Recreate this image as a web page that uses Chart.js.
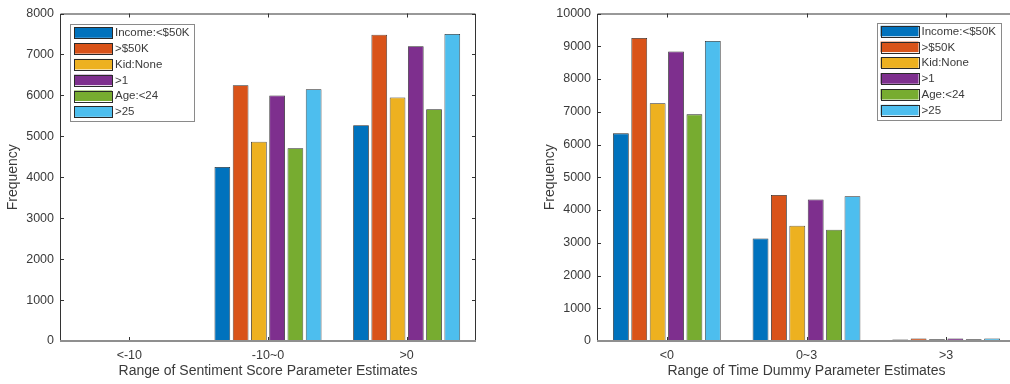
<!DOCTYPE html>
<html>
<head>
<meta charset="utf-8">
<script src="https://cdn.jsdelivr.net/npm/chart.js@4/dist/chart.umd.min.js"></script>
<style>
  html, body { margin: 0; padding: 0; background: #fff; }
  body { width: 1010px; height: 384px; overflow: hidden; position: relative; }
  canvas { position: absolute; top: 0; }
  #sentiment { left: 0; }
  #timeDummy { left: 537px; }
</style>
</head>
<body>
<canvas id="sentiment" width="480" height="384"></canvas>
<canvas id="timeDummy" width="490" height="384"></canvas>
<script>
// Series shared by both panels
const seriesLabels = ['Income:<$50K', '>$50K', 'Kid:None', '>1', 'Age:<24', '>25'];
const seriesColors = ['#0072BD', '#D95319', '#EDB120', '#7E2F8E', '#77AC30', '#4DBEEE'];

// Panel 1: sentiment score parameter estimates
const sentimentCats = ['<-10', '-10~0', '>0'];
const sentIncomeLow  = [0, 4250, 5270];
const sentIncomeHigh = [0, 6250, 7480];
const sentKidNone    = [0, 4870, 5950];
const sentKidMore    = [0, 6000, 7200];
const sentAgeYoung   = [0, 4710, 5660];
const sentAgeOld     = [0, 6150, 7500];
const sentimentTicks = [0, 1000, 2000, 3000, 4000, 5000, 6000, 7000, 8000];

// Panel 2: time dummy parameter estimates
const timeCats = ['<0', '0~3', '>3'];
const timeIncomeLow  = [6340, 3130, 45];
const timeIncomeHigh = [9250, 4460, 80];
const timeKidNone    = [7260, 3520, 50];
const timeKidMore    = [8840, 4320, 75];
const timeAgeYoung   = [6920, 3400, 50];
const timeAgeOld     = [9160, 4420, 75];
const timeTicks = [0, 1000, 2000, 3000, 4000, 5000, 6000, 7000, 8000, 9000, 10000];

const FONT = '"Liberation Sans", Arial, sans-serif';
const INK = '#3a3a3a';

// Box around the axes with short inward tick marks
const framePlugin = {
  id: 'boxFrame',
  afterDatasetsDraw(chart) {
    const { ctx, chartArea: a, scales } = chart;
    const x = scales.x, y = scales.y;
    ctx.save();
    ctx.strokeStyle = '#333';
    ctx.lineWidth = 1;
    ctx.beginPath();
    ctx.moveTo(a.left + 0.5, a.bottom);
    ctx.lineTo(a.left + 0.5, a.top + 0.5);
    ctx.lineTo(a.right - 0.5, a.top + 0.5);
    ctx.lineTo(a.right - 0.5, a.bottom);
    // y ticks, both sides
    y.ticks.forEach(t => {
      const py = Math.round(y.getPixelForValue(t.value)) + 0.5;
      ctx.moveTo(a.left, py); ctx.lineTo(a.left + 4, py);
      ctx.moveTo(a.right, py); ctx.lineTo(a.right - 4, py);
    });
    // x ticks at category centres, top and bottom
    x.ticks.forEach((t, i) => {
      const px = Math.round(x.getPixelForTick(i)) + 0.5;
      ctx.moveTo(px, a.bottom); ctx.lineTo(px, a.bottom - 4);
      ctx.moveTo(px, a.top); ctx.lineTo(px, a.top + 4);
    });
    ctx.stroke();
    // baseline along zero
    ctx.strokeStyle = '#8f8f8f';
    ctx.lineWidth = 2;
    ctx.beginPath();
    ctx.moveTo(a.left, a.bottom);
    ctx.lineTo(a.right, a.bottom);
    ctx.stroke();
    ctx.restore();
  }
};

// Legend box drawn inside the plot area
const legendPlugin = {
  id: 'insetLegend',
  afterDatasetsDraw(chart, args, opts) {
    const { ctx, chartArea: a } = chart;
    const sets = chart.data.datasets;
    ctx.save();
    ctx.font = opts.fontSize + 'px ' + FONT;
    const textW = Math.max(...sets.map(d => ctx.measureText(d.label).width));
    const sw = 38, sh = 10.5, rowH = 15.8;
    const w = 4 + sw + 3 + textW + 5;
    const h = rowH * sets.length + 2;
    const bx = opts.align === 'right' ? a.right - opts.offsetX - w : a.left + opts.offsetX;
    const by = a.top + opts.offsetY;
    ctx.fillStyle = '#fff';
    ctx.fillRect(bx, by, w, h);
    ctx.strokeStyle = '#8a8a8a';
    ctx.lineWidth = 1;
    ctx.strokeRect(Math.round(bx) + 0.5, Math.round(by) + 0.5, Math.round(w), Math.round(h));
    ctx.textBaseline = 'middle';
    ctx.textAlign = 'left';
    sets.forEach((d, i) => {
      const cy = by + 3.3 + sh / 2 + i * rowH;
      const sx = bx + 4;
      ctx.fillStyle = d.backgroundColor;
      ctx.fillRect(sx, cy - sh / 2, sw, sh);
      ctx.strokeStyle = '#2a2a2a';
      ctx.strokeRect(Math.round(sx) + 0.5, Math.round(cy - sh / 2) + 0.5, sw, Math.round(sh));
      ctx.fillStyle = INK;
      ctx.fillText(d.label, sx + sw + 3, cy + 0.5);
    });
    ctx.restore();
  }
};

function buildDatasets(valueLists) {
  return valueLists.map((vals, i) => ({
    label: seriesLabels[i],
    data: vals,
    backgroundColor: seriesColors[i],
    borderColor: '#262626',
    borderWidth: 0.8,
    borderSkipped: 'bottom',
    categoryPercentage: 0.79,
    barPercentage: 0.86
  }));
}

function makeChart(id, cats, valueLists, ticks, title, padRight, padTop, legendOpts) {
  const yMax = ticks[ticks.length - 1];
  return new Chart(document.getElementById(id), {
    type: 'bar',
    data: { labels: cats, datasets: buildDatasets(valueLists) },
    plugins: [framePlugin, legendPlugin],
    options: {
      responsive: false,
      animation: false,
      devicePixelRatio: 1,
      layout: { padding: { left: 0, right: padRight, top: padTop, bottom: 0 } },
      plugins: {
        legend: { display: false },
        tooltip: { enabled: false },
        insetLegend: legendOpts
      },
      scales: {
        x: {
          grid: { display: false, drawTicks: false },
          border: { display: false },
          ticks: { color: INK, font: { family: FONT, size: 12.5 }, padding: 7 },
          title: { display: true, text: title, color: INK,
                   font: { family: FONT, size: 14 }, padding: { top: 0, bottom: 4 } },
          afterFit(s) { s.height = 43; }
        },
        y: {
          min: 0, max: yMax,
          grid: { display: false, drawTicks: false },
          border: { display: false },
          afterBuildTicks(s) { s.ticks = ticks.map(v => ({ value: v })); },
          ticks: { color: INK, font: { family: FONT, size: 12.5 }, padding: 6,
                   callback: v => String(v) },
          title: { display: true, text: 'Frequency', color: INK,
                   font: { family: FONT, size: 14 }, padding: { top: 5, bottom: 0 } },
          afterFit(s) { s.width = 60; }
        }
      }
    }
  });
}

makeChart('sentiment', sentimentCats,
  [sentIncomeLow, sentIncomeHigh, sentKidNone, sentKidMore, sentAgeYoung, sentAgeOld],
  sentimentTicks, 'Range of Sentiment Score Parameter Estimates', 4, 12,
  { align: 'left', offsetX: 10, offsetY: 10.5, fontSize: 11.5 });

makeChart('timeDummy', timeCats,
  [timeIncomeLow, timeIncomeHigh, timeKidNone, timeKidMore, timeAgeYoung, timeAgeOld],
  timeTicks, 'Range of Time Dummy Parameter Estimates', 11, 13,
  { align: 'right', offsetX: 15, offsetY: 9, fontSize: 11.5 });
</script>
</body>
</html>
